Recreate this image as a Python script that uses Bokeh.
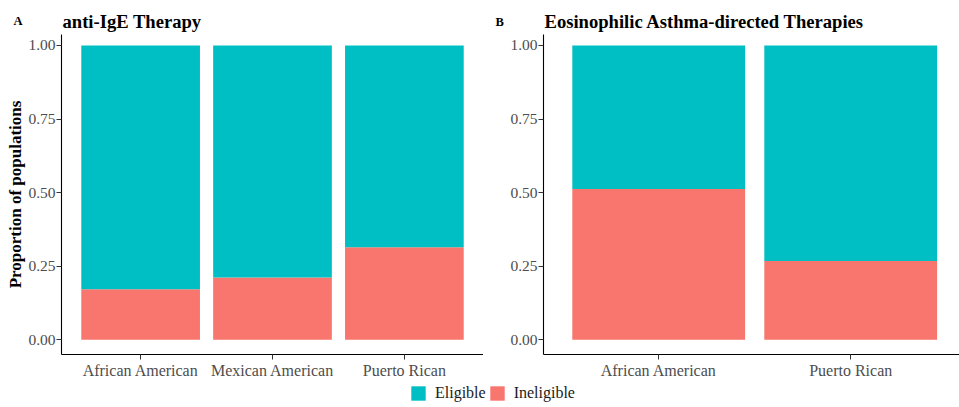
from bokeh.plotting import figure
from bokeh.models import Range1d, FixedTicker, Legend, LegendItem, ColumnDataSource
from bokeh.core.properties import value
from bokeh.layouts import row, column
from bokeh.embed import file_html
from bokeh.resources import INLINE

# ---- data ----
groups_a = ["African American", "Mexican American", "Puerto Rican"]
ineligible_a = [0.172, 0.212, 0.314]
eligible_a = [0.828, 0.788, 0.686]

groups_b = ["African American", "Puerto Rican"]
ineligible_b = [0.512, 0.268]
eligible_b = [0.488, 0.732]

series = ["Eligible", "Ineligible"]
y_ticks = [0, 0.25, 0.5, 0.75, 1.0]
y_tick_labels = ["0.00", "0.25", "0.50", "0.75", "1.00"]

panel_titles = ["anti-IgE Therapy", "Eosinophilic Asthma-directed Therapies"]
panel_letters = ["A", "B"]

COL_EL = "#00BFC4"
COL_IN = "#F8766D"
FONT = "Liberation Serif"

W = 959
HEAD_H = 34
PANEL_H = 347
LEG_H = 26
A_W = 483
B_W = W - A_W
PX_PER_UNIT_Y = 295.0
Y_TOP = 1.0 + 11 / PX_PER_UNIT_Y  # frame top starts just under the header


def make_panel(groups, inel, elig, width, left_border, x_end, ylabel):
    xs = list(range(1, len(groups) + 1))
    src = ColumnDataSource(dict(
        x=xs,
        in_top=inel,
        el_bottom=inel,
        el_top=[a + b for a, b in zip(inel, elig)],
    ))
    p = figure(width=width, height=PANEL_H, output_backend="svg", toolbar_location=None,
               x_range=Range1d(0.4, x_end), y_range=Range1d(-0.05, Y_TOP),
               min_border_left=left_border, min_border_right=0,
               min_border_top=0, min_border_bottom=26)
    p.vbar(x="x", bottom=0, top="in_top", width=0.9, source=src,
           fill_color=COL_IN, line_color=None)
    p.vbar(x="x", bottom="el_bottom", top="el_top", width=0.9, source=src,
           fill_color=COL_EL, line_color=None)

    p.xgrid.visible = False
    p.ygrid.visible = False
    p.outline_line_color = None

    p.xaxis.ticker = FixedTicker(ticks=xs)
    p.xaxis.major_label_overrides = {x: g for x, g in zip(xs, groups)}
    p.yaxis.ticker = FixedTicker(ticks=y_ticks)
    p.yaxis.major_label_overrides = {t: l for t, l in zip(y_ticks, y_tick_labels)}

    for ax in (p.xaxis, p.yaxis):
        ax.axis_line_color = "#000000"
        ax.axis_line_width = 1.1
        ax.major_tick_line_color = "#333333"
        ax.major_tick_line_width = 1
        ax.major_tick_out = 5
        ax.major_tick_in = 0
        ax.minor_tick_out = 0
        ax.minor_tick_in = 0
        ax.major_label_text_font = FONT
        ax.major_label_text_font_size = "16px"
        ax.major_label_text_color = "#4D4D4D"
        ax.major_label_standoff = 2
    p.yaxis.major_label_text_font_size = "15.5px"
    p.yaxis.major_label_standoff = 1

    if ylabel:
        p.yaxis.axis_label = ylabel
        p.yaxis.axis_label_text_font = FONT
        p.yaxis.axis_label_text_font_style = "bold"
        p.yaxis.axis_label_text_font_size = "17px"
        p.yaxis.axis_label_text_color = "#000000"
        p.yaxis.axis_label_standoff = 0
    return p


pA = make_panel(groups_a, ineligible_a, eligible_a, A_W, 61, 3.6,
                "Proportion of populations")
pB = make_panel(groups_b, ineligible_b, eligible_b, B_W, 60,
                0.4 + (B_W - 60) / 192.0, None)

# ---- header with panel letters and titles (pixel coordinates) ----
pH = figure(width=W, height=HEAD_H, output_backend="svg", toolbar_location=None,
            x_range=Range1d(0, W), y_range=Range1d(0, HEAD_H),
            x_axis_type=None, y_axis_type=None,
            min_border_left=0, min_border_right=0, min_border_top=0, min_border_bottom=0)
pH.xgrid.visible = False
pH.ygrid.visible = False
pH.outline_line_color = None
pH.text(x=[62, 544], y=[HEAD_H - 21.0] * 2, text=panel_titles,
        text_font=value(FONT), text_font_style="bold", text_font_size="18.6px",
        text_color="#000000", text_baseline="alphabetic", text_align="left")
pH.text(x=[13, 495], y=[HEAD_H - 20.5, HEAD_H - 21.0], text=panel_letters,
        text_font=value(FONT), text_font_style="bold", text_font_size="12.5px",
        text_color="#000000", text_baseline="alphabetic", text_align="left")

# ---- shared legend ----
pL = figure(width=W, height=LEG_H, output_backend="svg", toolbar_location=None,
            x_range=Range1d(0, 1), y_range=Range1d(0, 1),
            x_axis_type=None, y_axis_type=None,
            min_border_left=0, min_border_right=0, min_border_top=0, min_border_bottom=0)
pL.xgrid.visible = False
pL.ygrid.visible = False
pL.outline_line_color = None
dummy = ColumnDataSource(dict(x=[5.0], top=[6.0], bottom=[5.5]))
r_el = pL.vbar(x="x", top="top", bottom="bottom", width=0.1, source=dummy,
               fill_color=COL_EL, line_color=None)
r_in = pL.vbar(x="x", top="top", bottom="bottom", width=0.1, source=dummy,
               fill_color=COL_IN, line_color=None)
leg = Legend(items=[LegendItem(label=series[0], renderers=[r_el]),
                    LegendItem(label=series[1], renderers=[r_in])],
             orientation="horizontal", location=(409, 5),
             padding=0, margin=0, spacing=2, label_standoff=8,
             glyph_width=18, glyph_height=18, label_height=18,
             label_text_font=FONT, label_text_font_size="16px",
             label_text_color="#1A1A1A", border_line_color=None,
             background_fill_alpha=0)
pL.add_layout(leg, "center")

layout = column(pH, row(pA, pB), pL)
open("out.html", "w").write(file_html(layout, INLINE))
